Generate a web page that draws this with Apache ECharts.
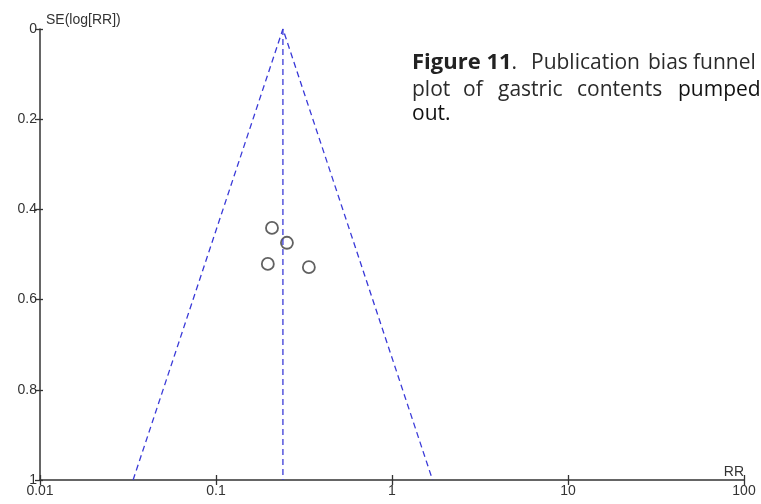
<!DOCTYPE html>
<html>
<head>
<meta charset="utf-8">
<script src="https://cdn.jsdelivr.net/npm/echarts@6/dist/echarts.min.js"></script>
<style>
  html, body { margin: 0; padding: 0; background: #fff; }
  #main { width: 761px; height: 504px; }
</style>
</head>
<body>
<div id="main"></div>
<script>
var rrTicks = [0.01, 0.1, 1, 10, 100];
var seTicks = [0, 0.2, 0.4, 0.6, 0.8, 1];
// studies: RR, SE(log RR)
var studyRR = [0.208, 0.253, 0.197, 0.337];
var studySE = [0.441, 0.474, 0.521, 0.528];
// pooled estimate and funnel limits
var pooledRR = 0.24;
var funnelRR = [0.0338, 0.24, 1.70];
var funnelSE = [1, 0, 1];

var myChart = echarts.init(document.getElementById('main'));

var points = studyRR.map(function (v, i) { return [v, studySE[i]]; });
var funnel = funnelRR.map(function (v, i) { return [v, funnelSE[i]]; });

var axisCol = '#333';
var lblFont = 'Liberation Sans';
function rrLabel(v) {
  var t = rrTicks.find(function (t) { return Math.abs(Math.log10(t) - Math.log10(v)) < 1e-6; });
  return t === undefined ? '' : String(t);
}
// caption words, placed one by one (justified text)
var capFont = 'Open Sans', capSize = 21, capCol = '#2b2b2b';
function word(txt, x, y, col) {
  return { type: 'text', x: x, y: y, style: { text: txt, fontSize: capSize, fontFamily: capFont, fill: col || capCol, verticalAlign: 'middle' } };
}
// second copy of each axis only draws the inner half of the ticks
var option = {
  animation: false,
  grid: { left: 40, right: 17, top: 29, bottom: 24, containLabel: false },
  xAxis: [{
    type: 'log', logBase: 10, min: 0.01, max: 100, position: 'bottom',
    name: 'RR', nameLocation: 'end', nameGap: 0,
    nameTextStyle: { color: axisCol, fontSize: 14, fontFamily: lblFont, align: 'right', verticalAlign: 'bottom', padding: [0, 0, 1, 0] },
    axisLine: { onZero: false, lineStyle: { color: axisCol, width: 1.5 } },
    axisTick: { length: 5, lineStyle: { color: axisCol, width: 1.3 } },
    splitLine: { show: false },
    axisLabel: { color: axisCol, fontSize: 14, fontFamily: lblFont, margin: 4, formatter: rrLabel }
  }, {
    type: 'log', logBase: 10, min: 0.01, max: 100, position: 'bottom',
    axisLine: { show: false, onZero: false },
    axisTick: { inside: true, length: 5, lineStyle: { color: axisCol, width: 1.3 } },
    splitLine: { show: false },
    axisLabel: { show: false }
  }],
  yAxis: [{
    type: 'value', inverse: true, min: 0, max: 1, interval: 0.2, position: 'left',
    name: 'SE(log[RR])', nameLocation: 'start', nameGap: 2,
    nameTextStyle: { color: axisCol, fontSize: 14, fontFamily: lblFont, align: 'left', padding: [0, 0, 0, 6] },
    axisLine: { onZero: false, lineStyle: { color: axisCol, width: 1.5 } },
    axisTick: { length: 5, lineStyle: { color: axisCol, width: 1.3 } },
    splitLine: { show: false },
    axisLabel: { color: axisCol, fontSize: 14, fontFamily: lblFont, margin: 3 }
  }, {
    type: 'value', inverse: true, min: 0, max: 1, interval: 0.2, position: 'left',
    axisLine: { show: false, onZero: false },
    axisTick: { inside: true, length: 3, lineStyle: { color: axisCol, width: 1.3 } },
    splitLine: { show: false },
    axisLabel: { show: false }
  }],
  series: [
    {
      type: 'line', data: funnel, symbol: 'none',
      lineStyle: { color: '#3a3ad8', width: 1.3, type: [6, 4] }
    },
    {
      type: 'line', data: [[pooledRR, 0], [pooledRR, 1]], symbol: 'none',
      lineStyle: { color: '#3a3ad8', width: 1.3, type: [6, 4] }
    },
    {
      type: 'scatter', data: points, symbol: 'circle', symbolSize: 12,
      itemStyle: { color: 'rgba(255,255,255,0)', borderColor: '#3a3a3a', borderWidth: 1.8 }
    }
  ],
  graphic: [
    { type: 'text', x: 412, y: 63, style: { text: '{b|Figure 11}.', rich: { b: { fontWeight: 'bold', fontSize: 22, fontFamily: capFont, fill: '#222' } }, fontSize: capSize, fontFamily: capFont, fill: capCol, verticalAlign: 'middle' } },
    word('Publication', 531, 63),
    word('bias', 648, 63),
    word('funnel', 693, 63),
    word('plot', 412, 90),
    word('of', 463, 90),
    word('gastric', 498, 90),
    word('contents', 577, 90),
    word('pumped', 678, 90, '#111'),
    word('out.', 412, 114, '#111')
  ]
};
myChart.setOption(option);
</script>
</body>
</html>
